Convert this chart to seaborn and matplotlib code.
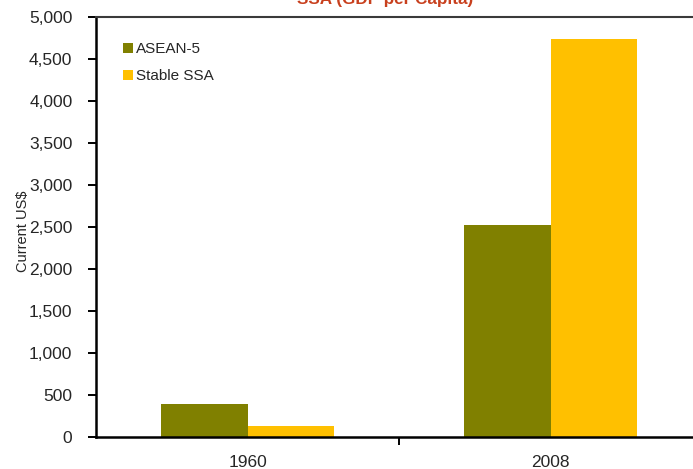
import pandas as pd
import matplotlib.pyplot as plt
import seaborn as sns
from matplotlib.ticker import FuncFormatter

years = ["1960", "2008"]
asean5 = [393, 2524]
stable_ssa = [131, 4738]
series_names = ["ASEAN-5", "Stable SSA"]
title = "SSA (GDP per Capita)"

df = pd.DataFrame({
    "year": years * 2,
    "value": asean5 + stable_ssa,
    "group": [series_names[0]] * 2 + [series_names[1]] * 2,
})

sns.set_style("white")
plt.rcParams["font.family"] = ["Liberation Sans", "DejaVu Sans"]

W, H = 693, 469
fig = plt.figure(figsize=(W / 100, H / 100), dpi=100)
ax = fig.add_axes([96 / W, (H - 437) / H, (W - 96) / W, 420 / H])

sns.barplot(
    data=df, x="year", y="value", hue="group",
    palette=["#808000", "#FFC000"], width=0.571, gap=0,
    saturation=1, ax=ax, errorbar=None, linewidth=0
)

ax.set_ylim(0, 5000)
ax.set_xlim(-0.5, -0.5 + (W - 96) / 303)
ax.set_yticks(range(0, 5001, 500))
ax.yaxis.set_major_formatter(FuncFormatter(lambda v, p: f"{int(v):,}"))
ax.tick_params(axis="y", direction="out", length=6, width=1.4, color="black",
               labelsize=12.5, pad=11, left=True)
ax.set_xticks([0.5], minor=True)
ax.tick_params(axis="x", which="major", length=0, labelsize=12.5, pad=13)
ax.tick_params(axis="x", which="minor", direction="out", length=6, width=1.4,
               color="black", bottom=True)
ax.set_xlabel("")
ax.set_ylabel("Current US$", fontsize=10.5)
ax.yaxis.set_label_coords(-0.11, 0.49)

for side in ["left", "bottom"]:
    ax.spines[side].set_color("black")
    ax.spines[side].set_linewidth(1.8)
ax.spines["right"].set_visible(False)
ax.spines["top"].set_color("#3a3a3a")
ax.spines["top"].set_linewidth(1.5)

leg = ax.legend(
    loc="upper left", bbox_to_anchor=(0.035, 0.955), frameon=False,
    fontsize=11, handlelength=0.65, handleheight=0.65, handletextpad=0.2,
    labelspacing=0.85, borderaxespad=0
)

fig.text(385 / W, 1 - 4 / H, title, ha="center", va="baseline",
         fontsize=12.3, fontweight="bold", color="#C8401E")

fig.savefig("out.png", dpi=100)
